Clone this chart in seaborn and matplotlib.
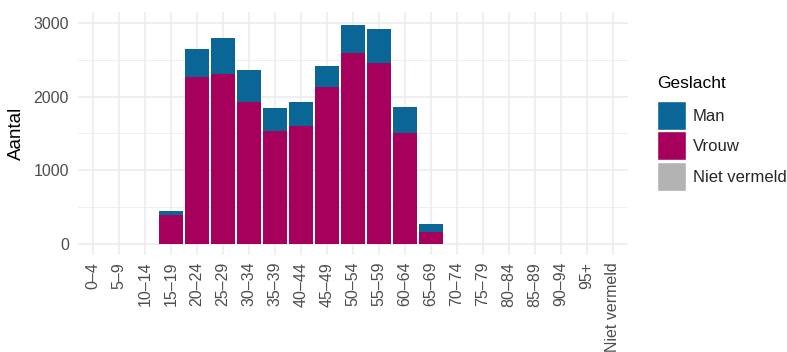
import matplotlib.pyplot as plt
import numpy as np
import pandas as pd
import seaborn as sns
from matplotlib.patches import Patch

# age groups (x axis)
leeftijd = ['0–4', '5–9', '10–14', '15–19', '20–24', '25–29', '30–34', '35–39',
            '40–44', '45–49', '50–54', '55–59', '60–64', '65–69', '70–74', '75–79',
            '80–84', '85–89', '90–94', '95+', 'Niet vermeld']

# counts per gender
vrouw = [0, 0, 0, 395, 2260, 2308, 1928, 1538, 1603, 2128, 2588, 2458, 1512, 167,
         0, 0, 0, 0, 0, 0, 0]
man = [0, 0, 0, 55, 382, 494, 433, 314, 325, 293, 380, 456, 342, 100,
       0, 0, 0, 0, 0, 0, 0]
niet_vermeld = [0] * 21

kleuren = {'Man': '#0B6698', 'Vrouw': '#A6005C', 'Niet vermeld': '#B3B3B3'}

df = pd.DataFrame({'Leeftijd': leeftijd, 'Man': man, 'Vrouw': vrouw,
                   'Niet vermeld': niet_vermeld})
# cumulative stacks (ggplot order: Niet vermeld bottom, Vrouw, Man top)
df['top_man'] = df['Niet vermeld'] + df['Vrouw'] + df['Man']
df['top_vrouw'] = df['Niet vermeld'] + df['Vrouw']
df['top_niet'] = df['Niet vermeld']

sns.set_theme(style='white')
plt.rcParams['font.family'] = ['Liberation Sans', 'DejaVu Sans']

fig = plt.figure(figsize=(7.87, 3.52), dpi=100)
ax = fig.add_axes([0.099, 0.276, 0.699, 0.690])

grid_c = '#EBEBEB'
ax.set_axisbelow(True)
for y in [500, 1500, 2500]:
    ax.axhline(y, color=grid_c, lw=0.6, zorder=0)
for y in [0, 1000, 2000, 3000]:
    ax.axhline(y, color=grid_c, lw=1.1, zorder=0)
for x in range(len(leeftijd)):
    ax.axvline(x, color=grid_c, lw=1.1, zorder=0)

for col, key in [('top_man', 'Man'), ('top_vrouw', 'Vrouw'), ('top_niet', 'Niet vermeld')]:
    sns.barplot(data=df, x='Leeftijd', y=col, order=leeftijd, color=kleuren[key],
                saturation=1, width=0.9, linewidth=0, ax=ax, zorder=2)

ax.set_xlim(-0.58, len(leeftijd) - 0.42)
ax.set_ylim(-150, 3150)
ax.set_yticks([0, 1000, 2000, 3000])
ax.set_xlabel('')
ax.set_ylabel('Aantal', fontsize=13.5, color='black', labelpad=6)
ax.tick_params(axis='x', labelrotation=90, labelsize=11.5, colors='#4D4D4D', length=0, pad=5)
ax.tick_params(axis='y', labelsize=11.5, colors='#4D4D4D', length=0, pad=6.5)
for s in ax.spines.values():
    s.set_visible(False)

# legend: title as separate text, keys below
fig.text(657 / 787, 1 - 83 / 352, 'Geslacht', fontsize=12.5, color='black',
         ha='left', va='center')
handles = [Patch(facecolor=kleuren[k], edgecolor='white', linewidth=1) for k in ['Man', 'Vrouw', 'Niet vermeld']]
leg = fig.legend(handles, ['Man', 'Vrouw', 'Niet vermeld'],
                 loc='upper left', bbox_to_anchor=(657 / 787, 1 - 101 / 352), frameon=False,
                 fontsize=12, handlelength=1.74, handleheight=2.3,
                 handletextpad=0.42, labelspacing=0.09, borderaxespad=0, borderpad=0)

fig.savefig('out.png', dpi=100, facecolor='white')
